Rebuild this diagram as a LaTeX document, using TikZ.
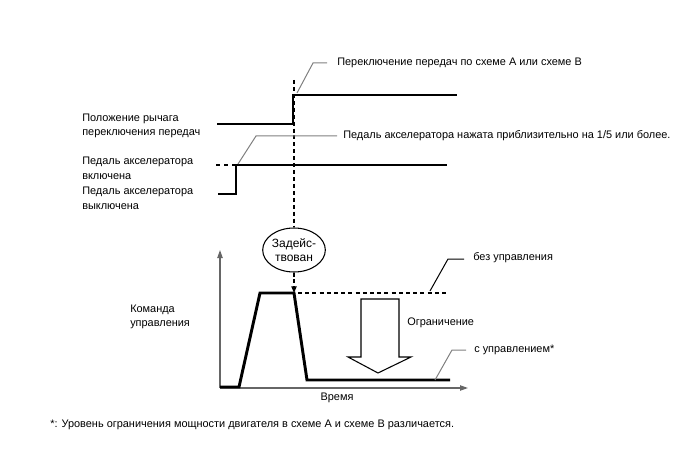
\documentclass[tikz,border=0pt]{standalone}
\usepackage{fontspec}
\setmainfont{Liberation Sans}
\usetikzlibrary{shapes.geometric,arrows.meta}
\begin{document}
\begin{tikzpicture}[x=0.75pt,y=-0.75pt,
  every node/.style={font=\fontsize{8.2}{11}\selectfont, inner sep=0pt},
  lbl/.style={anchor=west, align=left},
  sig/.style={line width=2.2pt},
  lead/.style={line width=0.75pt, draw=gray},
  leadk/.style={line width=0.75pt, draw=black},
  vdash/.style={line width=0.8pt, dash pattern=on 3pt off 2.2pt},
  axis/.style={line width=0.9pt, draw=gray!80!black, -{Triangle[length=6pt,width=4pt]}}]
\useasboundingbox (0,0) rectangle (688,463);

% left labels
\node[lbl] (l1) at (82,126) {Положение рычага\\переключения передач};
\node[lbl] (l2) at (82,168) {Педаль акселератора\\включена};
\node[lbl] (l3) at (82,198) {Педаль акселератора\\выключена};

% shift lever signal
\coordinate (s0) at (217,124);
\coordinate (s1) at (293,124);
\coordinate (s2) at (293,95);
\coordinate (s3) at (457,95);
\draw[sig] (s0) -- (s1) -- (s2) -- (s3);

% pedal signal
\coordinate (p0) at (218,194);
\coordinate (p1) at (236,194);
\coordinate (p2) at (236,165);
\coordinate (p3) at (447,165);
\coordinate (pd) at (216,165);
\draw[sig] (p0) -- (p1) -- (p2) -- (p3);
\draw[line width=0.8pt, dash pattern=on 3pt off 3pt] (pd) -- (p2);

% vertical dashed line
\coordinate (v0) at (294,80);
\node[ellipse, draw, line width=0.8pt, minimum width=56pt*0.75, minimum height=44pt*0.75, align=center, font=\fontsize{9}{10.5}\selectfont] (el) at (294,250) {Задейс-\\твован};
\draw[vdash] (v0) -- (el.north);

% top labels with leaders
\node[lbl] (t1) at (337,63) {Переключение передач по схеме A или схеме B};
\coordinate (t1a) at (313,63);
\coordinate (t1b) at (297,93);
\draw[lead] (t1.west) ++(-10,0) -- (t1a) -- (t1b);

\node[lbl] (t2) at (343,136) {Педаль акселератора нажата приблизительно на 1/5 или более.};
\coordinate (t2a) at (256,136);
\coordinate (t2b) at (238,164);
\draw[lead] (t2.west) ++(-6,0) -- (t2a) -- (t2b);

% axes
\coordinate (o) at (220,388);
\coordinate (ytop) at (220,250);
\coordinate (xend) at (468,388);
\draw[axis] (o) -- (ytop);
\draw[axis] (o) -- (xend);
\node (time) at (337,398) {Время};
\node[lbl] (cmd) at (130,317) {Команда\\управления};

% command curve
\coordinate (c0) at (220,387);
\coordinate (c1) at (239,387);
\coordinate (c2) at (260,293);
\coordinate (c3) at (294,293);
\coordinate (c4) at (307,380);
\coordinate (c5) at (450,380);
\draw[sig, line join=miter] (c0) -- (c1) -- (c2) -- (c3) -- (c4) -- (c5);

% arrow from ellipse down to plateau
\draw[vdash, -{Triangle[length=5pt,width=4pt]}] (el.south) -- (c3);

% dotted uncontrolled line
\coordinate (d0) at (298,293);
\coordinate (d1) at (449,293);
\draw[line width=2.2pt, dash pattern=on 3pt off 2.4pt] (d0) -- (d1);

% big hollow arrow
\draw[line width=0.8pt, fill=white] (361,299) -- (399,299) -- (399,357) -- (411,357) -- (378,373) -- (348,357) -- (361,357) -- cycle;
\node[lbl] (lim) at (407,323) {Ограничение};

% right labels
\node[lbl] (r1) at (473,258) {без управления};
\coordinate (r1a) at (448,259);
\coordinate (r1b) at (430,291);
\draw[leadk] (r1.west) ++(-9,1) -- (r1a) -- (r1b);

\node[lbl] (r2) at (474,350) {с управлением*};
\coordinate (r2a) at (452,350);
\coordinate (r2b) at (435,380);
\draw[lead] (r2.west) ++(-8,0) -- (r2a) -- (r2b);

% footnote
\node[lbl] (fn) at (50,425) {*: Уровень ограничения мощности двигателя в схеме A и схеме B различается.};
\end{tikzpicture}
\end{document}
